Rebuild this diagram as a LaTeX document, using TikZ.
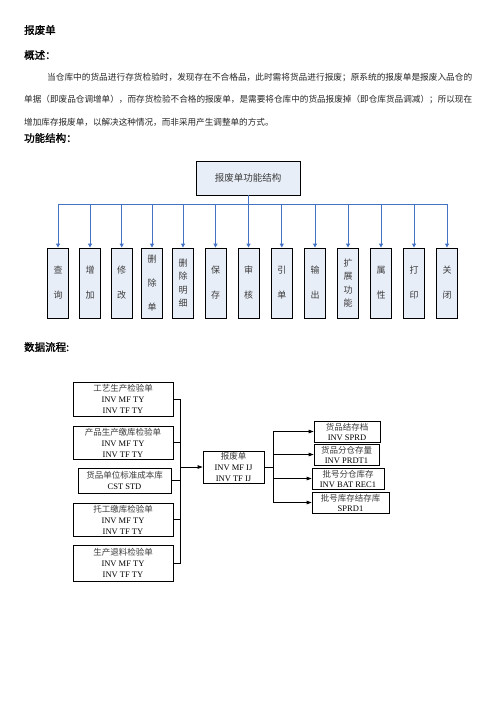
\documentclass[tikz,border=0pt]{standalone}
\usepackage{fontspec}
\usepackage{graphicx}
\setmainfont{Liberation Serif}
\newfontfamily\cjk{Noto Sans CJK SC}
\newfontfamily\cjkbold[FakeBold=1.5]{Noto Sans CJK SC}
\usetikzlibrary{arrows.meta}
\definecolor{boxfill}{RGB}{232,238,248}
\definecolor{blueline}{RGB}{68,114,196}
\definecolor{txtgray}{RGB}{60,60,60}
\tikzset{
  heading/.style={anchor=west, inner sep=0pt, font=\cjkbold\fontsize{10.5}{12}\selectfont},
  para/.style={anchor=west, inner sep=0pt, text=black!85, font=\cjk\fontsize{8.6}{10}\selectfont},
  topbox/.style={draw=black, line width=0.9pt, fill=boxfill, minimum width=104pt, minimum height=34pt, inner sep=0pt, text=txtgray, font=\cjk\fontsize{9.5}{11}\selectfont},
  fbox/.style={draw=black, line width=0.9pt, fill=boxfill, minimum width=21pt, minimum height=70pt, inner sep=0pt, align=center, text=txtgray, font=\cjk\fontsize{9}{25}\selectfont},
  fbox3/.style={fbox, font=\cjk\fontsize{9}{24}\selectfont},
  fbox4/.style={fbox, font=\cjk\fontsize{9}{13.3}\selectfont},
  bl/.style={draw=blueline, line width=1pt, -{Triangle[length=4pt,width=4pt]}},
  dbox/.style={draw=black, line width=0.7pt, fill=white, inner sep=0pt, align=center, font=\fontsize{8.5}{11}\selectfont},
  rbox/.style={dbox, minimum height=21pt, font=\fontsize{8.5}{10}\selectfont},
  dl/.style={draw=black, line width=0.7pt},
  da/.style={dl, -{Triangle[length=5pt,width=3.5pt]}}
}
\newcommand{\zhg}[1]{{\cjk\color{txtgray}#1}}
\begin{document}
\begin{tikzpicture}[x=1pt,y=-1pt]
\useasboundingbox[fill=white] (0,0) rectangle (496,702);

% headings and paragraph
\node[heading] (h1) at (24,30) {报废单};
\node[heading] (h2) at (24,55) {概述：};
\node[para] (p1) at (47,78) {\resizebox{425pt}{\height}{当仓库中的货品进行存货检验时，发现存在不合格品，此时需将货品进行报废；原系统的报废单是报废入品仓的}};
\node[para] (p2) at (24,100) {\resizebox{448pt}{\height}{单据（即废品仓调增单），而存货检验不合格的报废单，是需要将仓库中的货品报废掉（即仓库货品调减）；所以现在}};
\node[para] (p3) at (24,122) {增加库存报废单，以解决这种情况，而非采用产生调整单的方式。};
\node[heading] (h3) at (24,138) {功能结构：};
\node[heading] (h4) at (24,347) {数据流程:};

% function structure
\node[topbox] (top) at (248,178) {报废单功能结构};
\node[fbox]  (c1)  at (58,283)    {查\\询};
\node[fbox]  (c2)  at (90,283)    {增\\加};
\node[fbox]  (c3)  at (121.7,283) {修\\改};
\node[fbox3] (c4)  at (152,283)   {删\\除\\单};
\node[fbox4] (c5)  at (183,283)   {删\\除\\明\\细};
\node[fbox]  (c6)  at (215.5,283) {保\\存};
\node[fbox]  (c7)  at (248.5,283) {审\\核};
\node[fbox]  (c8)  at (281.8,283) {引\\单};
\node[fbox]  (c9)  at (315,283)   {输\\出};
\node[fbox4] (c10) at (348,283)   {扩\\展\\功\\能};
\node[fbox]  (c11) at (381,283)   {属\\性};
\node[fbox]  (c12) at (414,283)   {打\\印};
\node[fbox]  (c13) at (447,283)   {关\\闭};
\foreach \i in {1,...,13}{
  \draw[bl] (top.south) -- ++(0,9) -| (c\i.north);
}

% data flow
\node[dbox, minimum width=100pt, minimum height=34pt] (l1) at (123,399) {\zhg{工艺生产检验单}\\INV MF TY\\INV TF TY};
\node[dbox, minimum width=100pt, minimum height=33pt] (l2) at (123,442.5) {\zhg{产品生产缴库检验单}\\INV MF TY\\INV TF TY};
\node[dbox, minimum width=93pt, minimum height=25pt] (l3) at (124.5,480.5) {\zhg{货品单位标准成本库}\\CST STD};
\node[dbox, minimum width=100pt, minimum height=33pt] (l4) at (123,519.5) {\zhg{托工缴库检验单}\\INV MF TY\\INV TF TY};
\node[dbox, minimum width=100pt, minimum height=36pt] (l5) at (123,563) {\zhg{生产退料检验单}\\INV MF TY\\INV TF TY};

\node[dbox, minimum width=61pt, minimum height=32pt] (fj) at (233.5,467) {\zhg{报废单}\\INV MF IJ\\INV TF IJ};

\node[rbox, minimum width=66pt] (r1) at (347,431.5) {\zhg{货品结存档}\\INV SPRD};
\node[rbox, minimum width=65pt] (r2) at (346.5,454.5) {\zhg{货品分仓存量}\\INV PRDT1};
\node[rbox, minimum width=72pt] (r3) at (348,478.5) {\zhg{批号分仓库存}\\INV BAT REC1};
\node[rbox, minimum width=77pt] (r4) at (350.5,502.5) {\zhg{批号库存结存库}\\SPRD1};

\coordinate (busl) at (180,467);
\coordinate (busr) at (273,467);
\foreach \i in {1,...,5}{
  \draw[dl] (l\i.east) -| (busl);
}
\draw[da] (busl) -- (fj.west);
\draw[dl] (fj.east) -- (busr);
\foreach \i in {1,...,4}{
  \draw[da] (busr) |- (r\i.west);
}
\end{tikzpicture}
\end{document}
